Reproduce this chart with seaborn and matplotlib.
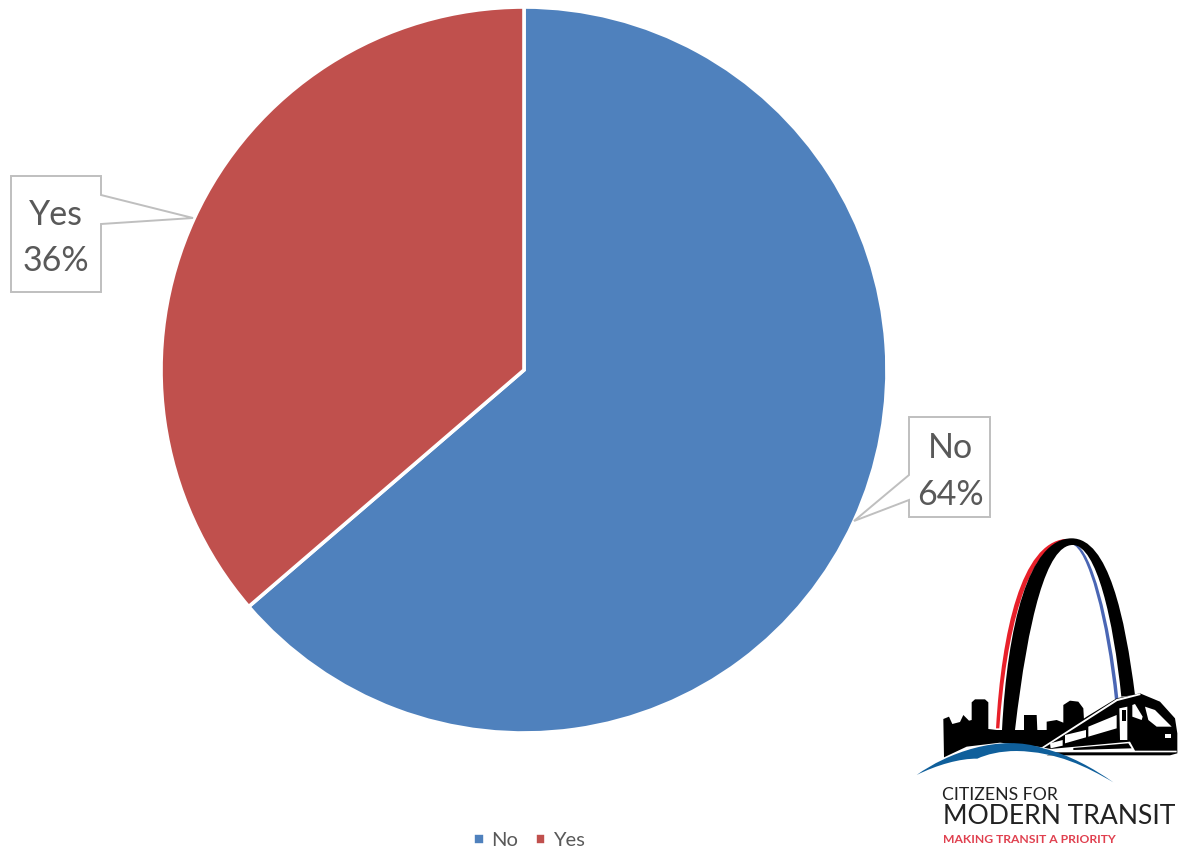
import seaborn as sns
import matplotlib.pyplot as plt
from matplotlib.patches import PathPatch, Polygon
from matplotlib.path import Path

labels = ['No', 'Yes']
shares = [63.7, 36.3]
colors = ['#4F81BD', '#C0504D']

sns.set_theme(style='white')
plt.rcParams['font.family'] = ['Lato', 'DejaVu Sans']

W, H = 1179, 852
fig = plt.figure(figsize=(W / 100, H / 100), dpi=100)

# pie axes: square box around the circle
cx, cy, r = 524, 370, 363
ax = fig.add_axes([(cx - r) / W, 1 - (cy + r) / H, 2 * r / W, 2 * r / H])
wedges, _ = ax.pie(shares, colors=colors, startangle=90, counterclock=False, radius=1,
                   wedgeprops={'edgecolor': 'white', 'linewidth': 2.6})
ax.set_xlim(-1, 1)
ax.set_ylim(-1, 1)

fig.legend(wedges, labels, loc='center', bbox_to_anchor=(529 / W, 1 - 841 / H), ncol=2,
           frameon=False, fontsize=14.5, labelcolor='#595959', handlelength=0.55,
           handleheight=0.55, handletextpad=0.35, columnspacing=0.8)

# overlay in pixel coordinates for callouts and logo
ov = fig.add_axes([0, 0, 1, 1], facecolor='none')
ov.set_xlim(0, W)
ov.set_ylim(H, 0)
ov.axis('off')


def callout(points, text_xy, label, share):
    ov.add_patch(Polygon(points, closed=True, facecolor='white', edgecolor='#BFBFBF', linewidth=1.4))
    ov.text(text_xy[0], text_xy[1], f'{label}\n{share:.0f}%', ha='center', va='center',
            fontsize=24.5, color='#595959', linespacing=1.55)


callout([(11, 176), (101, 176), (101, 195), (193, 218), (101, 224), (101, 292), (11, 292)],
        (56, 238), labels[1], shares[1])
callout([(909, 417), (990, 417), (990, 517), (909, 517), (909, 500), (854, 521), (909, 475)],
        (950, 471.5), labels[0], shares[0])


# logo, traced in zoom crop coordinates
def z(p):
    return (900 + p[0] / 3, 520 + p[1] / 3)


def poly(points, color):
    ov.add_patch(Polygon([z(p) for p in points], closed=True, facecolor=color, edgecolor='none'))


def band(outer, inner, color):
    # both edges are cubic runs; inner is given on the way back
    verts = [z(p) for p in outer + inner] + [z(outer[0])]
    codes = ([Path.MOVETO] + [Path.CURVE4] * (len(outer) - 1) + [Path.LINETO]
             + [Path.CURVE4] * (len(inner) - 1) + [Path.CLOSEPOLY])
    ov.add_patch(PathPatch(Path(verts, codes), facecolor=color, edgecolor='none'))


# red and blue rails, then the black arch
band([(288, 625), (305, 330), (365, 70), (495, 57)],
     [(498, 60), (380, 80), (318, 340), (298, 625)], '#E8202A')
band([(515, 72), (565, 85), (620, 300), (645, 540)],
     [(655, 535), (630, 300), (575, 90), (525, 72)], '#4A66B4')
band([(306, 630), (322, 320), (385, 55), (515, 55), (625, 55), (675, 290), (705, 525)],
     [(664, 530), (640, 300), (590, 75), (518, 75), (440, 75), (385, 290), (345, 630)], 'black')

poly([(130, 597), (147, 590), (157, 612), (180, 606), (190, 585), (207, 602), (215, 600),
      (215, 547), (225, 538), (255, 538), (265, 547), (265, 627), (290, 630), (372, 630),
      (372, 585), (410, 585), (412, 630), (440, 630), (440, 605), (470, 600), (490, 608),
      (490, 555), (510, 542), (535, 545), (550, 565), (552, 600), (430, 682), (300, 668),
      (200, 680), (132, 712)], 'black')

# train
poly([(425, 682), (560, 590), (650, 535), (720, 520), (780, 545), (825, 595), (832, 640),
      (832, 700), (810, 706), (440, 706), (480, 692)], 'black')
poly([(425, 682), (650, 537), (720, 520), (722, 525), (652, 543), (430, 685)], 'white')
poly([(565, 620), (650, 585), (650, 625), (565, 650)], 'white')
poly([(495, 645), (558, 630), (558, 652), (495, 670)], 'white')
poly([(450, 670), (488, 660), (488, 677), (452, 685)], 'white')
poly([(658, 565), (682, 560), (682, 660), (660, 660)], 'white')
poly([(665, 570), (677, 570), (677, 602), (665, 602)], 'black')
poly([(697, 555), (705, 552), (728, 590), (725, 600), (697, 590)], 'white')
poly([(735, 560), (765, 570), (815, 620), (770, 620), (745, 600)], 'white')
poly([(795, 642), (812, 642), (812, 655), (795, 655)], 'white')
poly([(440, 688), (690, 665), (705, 692), (830, 692), (830, 697), (440, 697)], 'white')
poly([(520, 684), (685, 670), (695, 685), (520, 690)], 'black')

# blue swoosh
band([(50, 765), (140, 700), (300, 640), (430, 685), (510, 705), (580, 745), (640, 787)],
     [(640, 787), (560, 740), (470, 695), (350, 693), (300, 693), (260, 703), (232, 716),
      (180, 715), (110, 735), (50, 765)], '#0F5F9B')

ov.text(*z((127, 825)), 'CITIZENS FOR', fontsize=12.7, color='#222222', va='center', ha='left')
ov.text(*z((128, 891)), 'MODERN TRANSIT', fontsize=19.1, color='#222222', va='center', ha='left')
ov.text(*z((130, 958)), 'MAKING TRANSIT A PRIORITY', fontsize=8.7, color='#E0404F', va='center',
        ha='left', weight='bold')

fig.savefig('out.png', dpi=100)
